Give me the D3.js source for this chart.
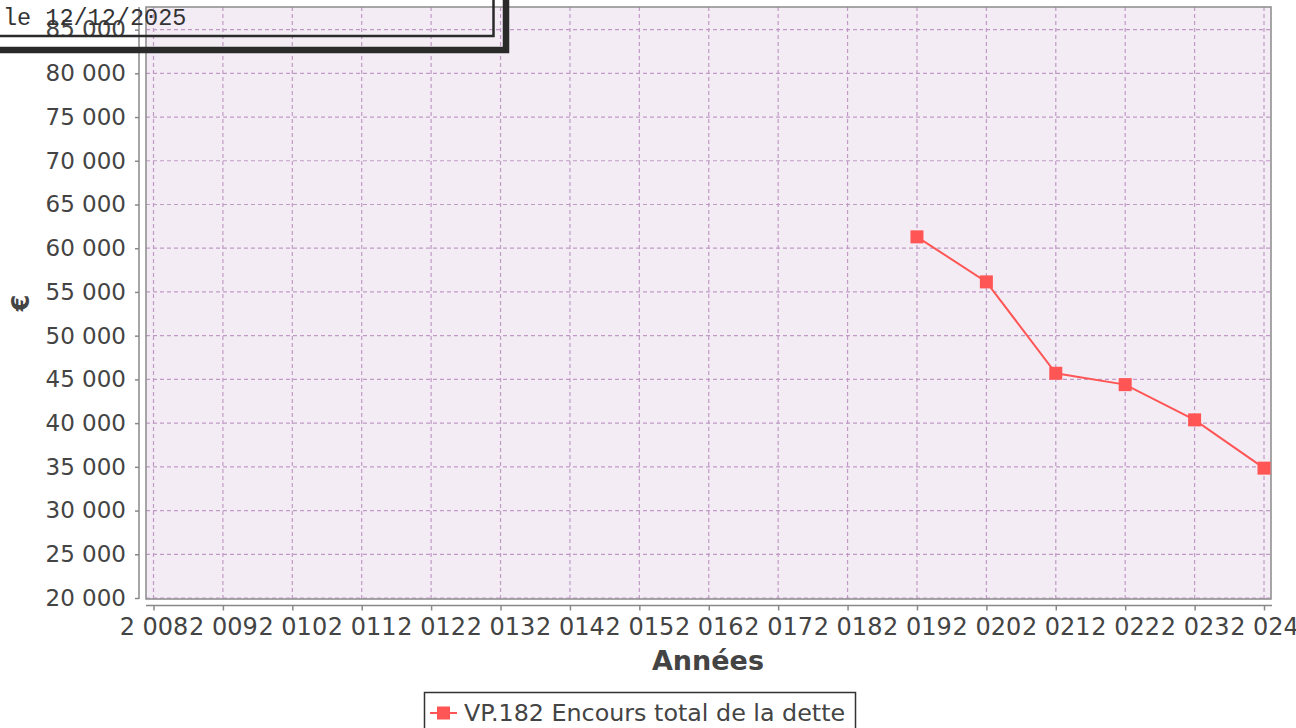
<!DOCTYPE html>
<html><head><meta charset="utf-8">
<script src="https://cdn.jsdelivr.net/npm/d3@7"></script>
<style>html,body{margin:0;padding:0;background:#fff;overflow:hidden}</style>
</head><body>
<script>
const years = [2019, 2020, 2021, 2022, 2023, 2024];
const values = [61300, 56150, 45700, 44400, 40370, 34850];
const xTicks = d3.range(2008, 2025);
const yTicks = d3.range(20000, 85001, 5000);
const seriesName = "VP.182 Encours total de la dette";
const xTitle = "Années";
const yTitle = "€";
const stampText = "le 12/12/2025";

const W = 1296, H = 728;
const svg = d3.select("body").append("svg").attr("width", W).attr("height", H);
const plot = {l: 146, r: 1271, t: 7, b: 599};
const x = d3.scaleLinear().domain([2008, 2024]).range([153.5, 1264]);
const y = d3.scaleLinear().domain([20000, 85000]).range([598, 29.6]);
const fmt = v => d3.format(",")(v).replace(/,/g, " ");

svg.append("rect").attr("x", plot.l).attr("y", plot.t).attr("width", plot.r - plot.l).attr("height", plot.b - plot.t)
  .attr("fill", "#f3ecf4");
const grid = svg.append("g").attr("stroke", "#c09ac5").attr("stroke-width", 1.2).attr("stroke-dasharray", "4,3");
grid.selectAll("line.h").data(yTicks).join("line").attr("x1", plot.l).attr("x2", plot.r)
  .attr("y1", d => y(d)).attr("y2", d => y(d));
grid.selectAll("line.v").data(xTicks).join("line").attr("y1", plot.t).attr("y2", plot.b)
  .attr("x1", d => x(d)).attr("x2", d => x(d));
svg.append("rect").attr("x", plot.l).attr("y", plot.t).attr("width", plot.r - plot.l).attr("height", plot.b - plot.t)
  .attr("fill", "none").attr("stroke", "#8a8a8a").attr("stroke-width", 1.5);

// Y axis
const ya = svg.append("g").attr("transform", "translate(139,0)")
  .call(d3.axisLeft(y).tickValues(yTicks).tickFormat(fmt).tickSize(4).tickPadding(9));
ya.select(".domain").attr("d", `M0,${plot.t}V${plot.b}`).attr("stroke", "#888").attr("stroke-width", 1.5);
ya.selectAll(".tick line").attr("stroke", "#888").attr("stroke-width", 1.5);
ya.selectAll("text").attr("font-family", "DejaVu Sans").attr("font-size", 23).attr("fill", "#444");

// X axis
const xa = svg.append("g").attr("transform", "translate(0,605.5)")
  .call(d3.axisBottom(x).tickValues(xTicks).tickFormat(fmt).tickSize(5).tickPadding(7));
xa.select(".domain").attr("d", `M${plot.l},0H${plot.r + 1}`).attr("stroke", "#888").attr("stroke-width", 1.5);
xa.selectAll(".tick line").attr("stroke", "#888").attr("stroke-width", 1.5);
xa.selectAll("text").attr("font-family", "DejaVu Sans").attr("font-size", 24).attr("fill", "#444");

svg.append("text").attr("x", 708).attr("y", 670).attr("text-anchor", "middle")
  .attr("font-family", "DejaVu Sans").attr("font-weight", "bold").attr("font-size", 27).attr("fill", "#444").text(xTitle);
svg.append("text").attr("transform", "translate(29,303) rotate(-90)").attr("text-anchor", "middle")
  .attr("font-family", "DejaVu Sans").attr("font-weight", "bold").attr("font-size", 24).attr("fill", "#444").text(yTitle);

// Series
const pts = years.map((yr, i) => [yr, values[i]]);
svg.append("path").datum(pts).attr("fill", "none").attr("stroke", "#ff5555").attr("stroke-width", 2)
  .attr("d", d3.line().x(d => x(d[0])).y(d => y(d[1])));
svg.selectAll("rect.pt").data(pts).join("rect").attr("class", "pt")
  .attr("x", d => x(d[0]) - 6.5).attr("y", d => y(d[1]) - 6.5).attr("width", 13).attr("height", 13).attr("fill", "#ff5555");

// Legend
svg.append("rect").attr("x", 424.5).attr("y", 692.5).attr("width", 431).attr("height", 50)
  .attr("fill", "#fff").attr("stroke", "#333").attr("stroke-width", 1.5);
svg.append("line").attr("x1", 430).attr("x2", 457).attr("y1", 713).attr("y2", 713).attr("stroke", "#ff5555").attr("stroke-width", 2);
svg.append("rect").attr("x", 437).attr("y", 706.5).attr("width", 13).attr("height", 13).attr("fill", "#ff5555");
svg.append("text").attr("x", 464).attr("y", 721).attr("font-family", "DejaVu Sans").attr("font-size", 23.8)
  .attr("fill", "#444").text(seriesName);

// Stamp box
svg.append("text").attr("x", 3).attr("y", 25).attr("font-family", "Liberation Mono").attr("font-size", 23.5)
  .attr("fill", "#333").text(stampText);
svg.append("path").attr("d", "M-5,36H493.5V-5").attr("fill", "none").attr("stroke", "#2a2a2a").attr("stroke-width", 2.5);
svg.append("path").attr("d", "M-5,50H506V-5").attr("fill", "none").attr("stroke", "#2a2a2a").attr("stroke-width", 6.5);
</script>
</body></html>
